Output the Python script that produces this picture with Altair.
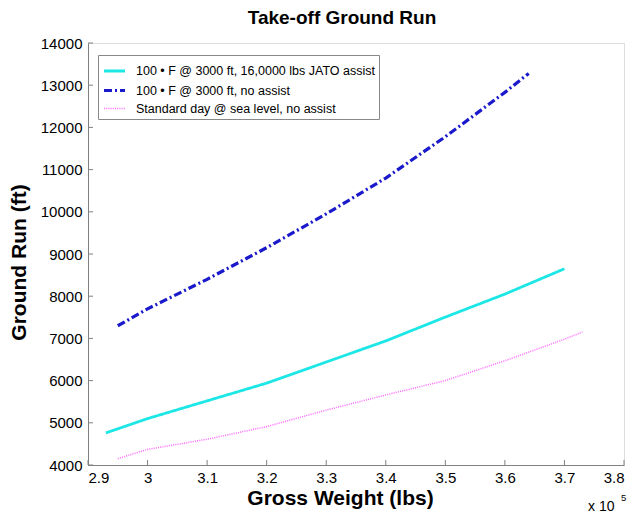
import altair as alt
import pandas as pd

series_names = [
    "100 • F @ 3000 ft, 16,0000 lbs JATO assist",
    "100 • F @ 3000 ft, no assist",
    "Standard day @ sea level, no assist",
]

# Gross weight in units of 10^5 lbs, ground run in ft
jato_x = [2.93, 3.0, 3.1, 3.2, 3.3, 3.4, 3.5, 3.6, 3.7]
jato_y = [4760, 5100, 5520, 5940, 6440, 6940, 7505, 8050, 8650]

noassist_x = [2.95, 3.0, 3.1, 3.2, 3.3, 3.4, 3.5, 3.6, 3.64]
noassist_y = [7300, 7700, 8400, 9150, 9950, 10800, 11780, 12830, 13280]

std_x = [2.95, 3.0, 3.1, 3.2, 3.3, 3.4, 3.5, 3.6, 3.7, 3.73]
std_y = [4150, 4370, 4610, 4910, 5300, 5660, 6000, 6470, 6980, 7150]

x_ticks = [2.9, 3.0, 3.1, 3.2, 3.3, 3.4, 3.5, 3.6, 3.7, 3.8]
y_ticks = [4000, 5000, 6000, 7000, 8000, 9000, 10000, 11000, 12000, 13000, 14000]

rows = []
for name, xs, ys in zip(series_names, [jato_x, noassist_x, std_x], [jato_y, noassist_y, std_y]):
    for i, (a, b) in enumerate(zip(xs, ys)):
        rows.append({"series": name, "weight": a, "run": b, "order": i})
df = pd.DataFrame(rows)

FONT = "Liberation Sans"
W, H = 536, 422
AXIS_COLOR = "#808080"

x_enc = alt.X(
    "weight:Q",
    scale=alt.Scale(domain=[2.9, 3.8], nice=False, zero=False),
    axis=alt.Axis(
        values=x_ticks, format="~g", tickSize=0, labelPadding=5,
        labelFontSize=15, labelFont=FONT, labelColor="black",
        domainColor=AXIS_COLOR, grid=False, labelOverlap=False,
        title="Gross Weight (lbs)", titleFont=FONT, titleFontSize=21,
        titleFontWeight="bold", titleColor="black",
        titleX=252, titleY=39, titleAlign="center", titleBaseline="alphabetic",
    ),
)
y_enc = alt.Y(
    "run:Q",
    scale=alt.Scale(domain=[4000, 14000], nice=False, zero=False),
    axis=alt.Axis(
        values=y_ticks, format="d", tickSize=0, labelPadding=6,
        labelFontSize=15, labelFont=FONT, labelColor="black",
        domainColor=AXIS_COLOR, grid=False, labelOverlap=False,
        title="Ground Run (ft)", titleFont=FONT, titleFontSize=21,
        titleFontWeight="bold", titleColor="black",
        titleX=-63, titleY=219, titleAlign="center", titleBaseline="alphabetic",
        titleAngle=270,
    ),
)


def make_legend():
    return alt.Legend(
        orient="none", legendX=10, legendY=12, title=None,
        strokeColor="#888888", fillColor="white", padding=4,
        labelFont=FONT, labelFontSize=12.5, labelColor="black", labelLimit=400,
        symbolType="stroke", symbolSize=441, labelOffset=9, rowPadding=-5,
    )


lines = alt.Chart(df).mark_line(strokeCap="butt").encode(
    x=x_enc,
    y=y_enc,
    order="order:Q",
    color=alt.Color(
        "series:N",
        scale=alt.Scale(domain=series_names, range=["#1de6e6", "#1a1acc", "#ff66ff"]),
        legend=make_legend(),
    ),
    strokeDash=alt.StrokeDash(
        "series:N",
        scale=alt.Scale(domain=series_names, range=[[1, 0], [8, 3, 2, 3], [1, 1.2]]),
        legend=make_legend(),
    ),
    strokeWidth=alt.StrokeWidth(
        "series:N",
        scale=alt.Scale(type="ordinal", domain=series_names, range=[2.8, 3.2, 1.5]),
        legend=make_legend(),
    ),
)

xt = alt.Chart(pd.DataFrame({"weight": x_ticks})).mark_rule(color=AXIS_COLOR, strokeWidth=1).encode(
    x="weight:Q", y=alt.value(H), y2=alt.value(H - 5)
)
yt = alt.Chart(pd.DataFrame({"run": y_ticks})).mark_rule(color=AXIS_COLOR, strokeWidth=1).encode(
    y="run:Q", x=alt.value(0), x2=alt.value(5)
)

exp_base = alt.Chart(pd.DataFrame({"t": ["x 10"]})).mark_text(
    font=FONT, fontSize=14, align="left", baseline="alphabetic", color="black"
).encode(text="t:N", x=alt.value(500), y=alt.value(468))
exp_sup = alt.Chart(pd.DataFrame({"t": ["5"]})).mark_text(
    font=FONT, fontSize=9.5, align="left", baseline="alphabetic", color="black"
).encode(text="t:N", x=alt.value(533), y=alt.value(458))

chart = alt.layer(lines, xt, yt, exp_base, exp_sup).properties(
    width=W, height=H,
    title=alt.TitleParams(
        "Take-off Ground Run", font=FONT, fontSize=19, fontWeight="bold",
        color="black", anchor="middle", dx=-14, offset=8,
    ),
    autosize=alt.AutoSizeParams(type="none"),
    padding={"left": 88, "top": 43, "right": 10, "bottom": 49},
).configure_view(stroke=None).configure(background="white")

chart.save("out.html", embed_options={"renderer": "svg", "actions": False})
